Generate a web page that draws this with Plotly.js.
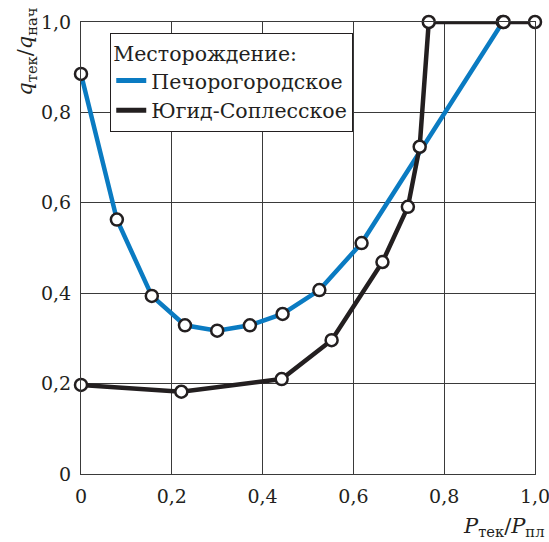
<!DOCTYPE html>
<html><head><meta charset="utf-8">
<script src="https://cdn.plot.ly/plotly-3.0.1.min.js"></script>
<style>body{margin:0;background:#fff}#c{width:549px;height:542px}</style>
</head><body><div id="c"></div>
<script>
const pechX = [0, 0.079, 0.156, 0.229, 0.300, 0.372, 0.444, 0.525, 0.618, 0.929];
const pechY = [0.885, 0.563, 0.394, 0.329, 0.317, 0.329, 0.354, 0.407, 0.511, 1.0];
const yugX = [0, 0.221, 0.442, 0.552, 0.664, 0.720, 0.746, 0.766, 0.931, 1.0];
const yugY = [0.197, 0.182, 0.210, 0.296, 0.469, 0.591, 0.724, 1.0, 1.0, 1.0];
const tickVals = [0, 0.2, 0.4, 0.6, 0.8, 1.0];
const tickText = ['0', '0,2', '0,4', '0,6', '0,8', '1,0'];
const names = ['Печорогородское', 'Югид-Соплесское'];
const colors = ['#0a7bc2', '#231f20'];
const FONT = '"DejaVu Serif", serif';
const marker = {symbol: 'circle', size: 12, color: '#fff', line: {color: '#231f20', width: 2.5}};
const traces = [
  {x: pechX, y: pechY, name: names[0], mode: 'lines+markers', line: {color: colors[0], width: 4.5}, marker: marker, cliponaxis: false, showlegend: false},
  {x: yugX, y: yugY, name: names[1], mode: 'lines+markers', line: {color: colors[1], width: 4.5}, marker: marker, cliponaxis: false, showlegend: false},
  {x: [null], y: [null], name: names[0], mode: 'lines', line: {color: colors[0], width: 5}},
  {x: [null], y: [null], name: names[1], mode: 'lines', line: {color: colors[1], width: 5}}
];
const ax = {
  range: [0, 1], tickvals: tickVals, ticktext: tickText, showgrid: true, gridcolor: '#3a3a3a', gridwidth: 1,
  zeroline: false, showline: true, linecolor: '#3a3a3a', linewidth: 1, mirror: true, ticklabeloverflow: 'allow',
  ticks: 'outside', ticklen: 5, tickcolor: 'rgba(0,0,0,0)', tickfont: {family: FONT, size: 19, color: '#231f20'}
};
const layout = {
  width: 549, height: 542,
  margin: {l: 81, r: 14, t: 22, b: 68},
  paper_bgcolor: '#fff', plot_bgcolor: '#fff',
  font: {family: FONT, color: '#231f20'},
  xaxis: Object.assign({}, ax),
  yaxis: Object.assign({}, ax),
  showlegend: true,
  legend: {
    x: 0.064, y: 0.976, xanchor: 'left', yanchor: 'top',
    bgcolor: '#fff', bordercolor: '#231f20', borderwidth: 1.2,
    font: {family: FONT, size: 20.5, color: '#231f20'},
    title: {text: 'Месторождение:', font: {family: FONT, size: 20.5, color: '#231f20'}},
    itemwidth: 30, tracegroupgap: 0, traceorder: 'normal'
  },
  annotations: [
    {text: '<i>q</i><sub>тек</sub>/<i>q</i><sub>нач</sub>', xref: 'paper', yref: 'paper', x: -0.12, y: 1.035,
     xanchor: 'center', yanchor: 'top', textangle: -90, showarrow: false, font: {family: FONT, size: 21, color: '#231f20'}},
    {text: '<i>P</i><sub>тек</sub>/<i>P</i><sub>пл</sub>', xref: 'paper', yref: 'paper', x: 1.025, y: -0.085,
     xanchor: 'right', yanchor: 'top', showarrow: false, font: {family: FONT, size: 21, color: '#231f20'}}
  ]
};
Plotly.newPlot('c', traces, layout, {staticPlot: true});
</script></body></html>
